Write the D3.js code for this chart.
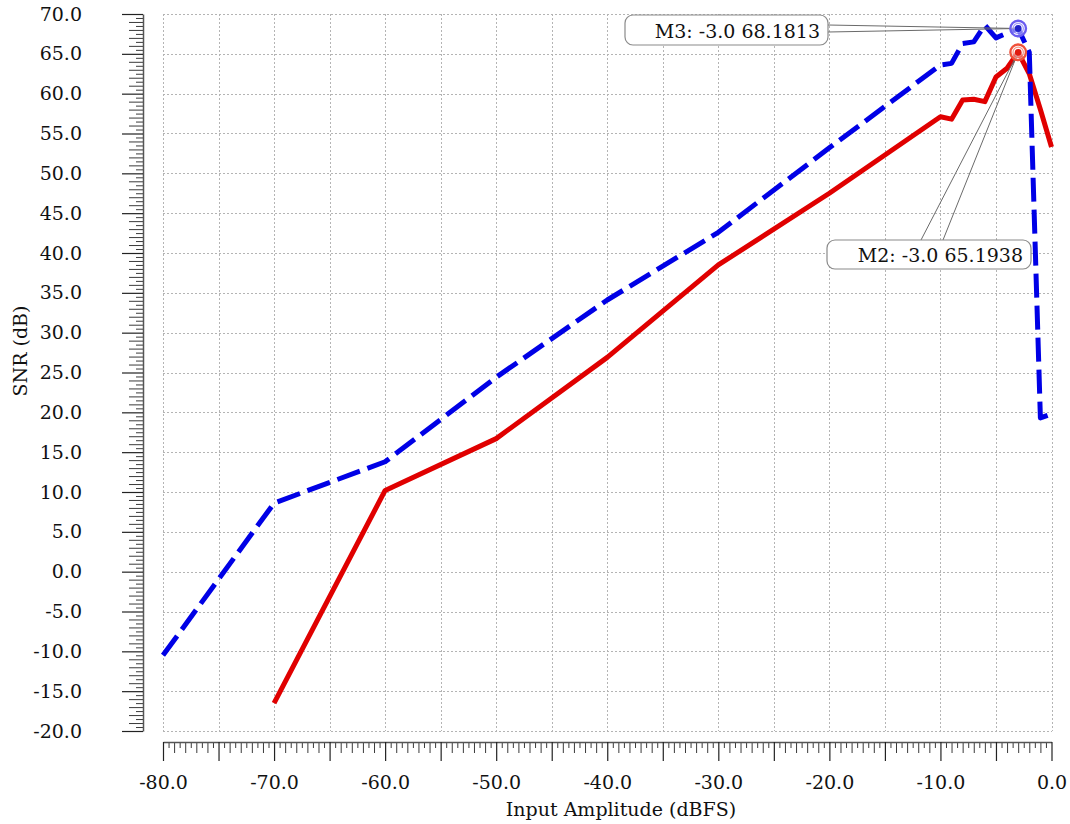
<!DOCTYPE html>
<html>
<head>
<meta charset="utf-8">
<script src="https://cdn.jsdelivr.net/npm/d3@7"></script>
<style>
  body { margin: 0; background: #fff; }
  svg { display: block; }
  text { font-family: "DejaVu Serif", serif; font-size: 19px; fill: #111; }
</style>
</head>
<body>
<svg id="chart" width="1070" height="824"></svg>
<script>
// Input amplitude sweep (dBFS) and measured SNR (dB) for the two traces
const inputLevels = [-80, -70, -60, -50, -40, -30, -20, -10, -9, -8, -7, -6, -5, -4, -3, -2, -1, 0];
const snrM2 = [null, -16.5, 10.2, 16.7, 26.9, 38.5, 47.5, 57.1, 56.8, 59.2, 59.3, 59.0, 62.1, 63.2, 65.1938, 62.5, 58.0, 53.3];
const snrM3 = [-10.5, 8.6, 13.8, 24.4, 34.1, 42.6, 53.2, 63.6, 63.8, 66.3, 66.5, 68.6, 67.0, 67.6, 68.1813, 65.2, 19.3, 19.8];

const xTickLabels = [-80, -70, -60, -50, -40, -30, -20, -10, 0];
const yTickLabels = [-20, -15, -10, -5, 0, 5, 10, 15, 20, 25, 30, 35, 40, 45, 50, 55, 60, 65, 70];

// Peak markers
const markerNames = ["M3", "M2"];
const markerX = [-3, -3];
const markerY = [68.1813, 65.1938];

const svg = d3.select("#chart");
const W = 1070, H = 824;
svg.append("rect").attr("width", W).attr("height", H).attr("fill", "#fff");

const x = d3.scaleLinear().domain([-80, 0]).range([163, 1051.5]);
const y = d3.scaleLinear().domain([-20, 70]).range([731, 14]);

// ---- dotted grid (every 5 units) ----
const grid = svg.append("g").attr("stroke", "#b4b4b4").attr("stroke-width", 1)
  .attr("stroke-dasharray", "2,2").attr("shape-rendering", "crispEdges");
const gx = d3.range(-80, 0.01, 5);
const gy = d3.range(-20, 70.01, 5);
grid.selectAll(".gv").data(gx).join("line")
  .attr("x1", d => Math.round(x(d)) + 0.5).attr("x2", d => Math.round(x(d)) + 0.5)
  .attr("y1", y(70)).attr("y2", y(-20));
grid.selectAll(".gh").data(gy).join("line")
  .attr("y1", d => Math.round(y(d)) + 0.5).attr("y2", d => Math.round(y(d)) + 0.5)
  .attr("x1", x(-80)).attr("x2", x(0));

// ---- rulers ----
function tier(axis, g, values, size, fmt, pad) {
  axis.tickValues(values).tickSize(size).tickSizeOuter(0).tickPadding(pad || 3)
    .tickFormat(fmt || (() => ""));
  g.call(axis);
  g.selectAll(".tick line").attr("stroke", "#3a3a3a");
  return g;
}
const isMult = (v, m) => Math.abs(v / m - Math.round(v / m)) < 1e-6;

// Y ruler
const yAxisX = 143;
const yHalf = d3.range(-20, 70.01, 0.5).filter(v => !isMult(v, 1));
const yOne = d3.range(-20, 70.01, 1).filter(v => !isMult(v, 5));
const gyR = svg.append("g").attr("transform", `translate(${yAxisX},0)`);
tier(d3.axisLeft(y), gyR.append("g"), yHalf, 7).select(".domain").remove();
tier(d3.axisLeft(y), gyR.append("g"), yOne, 14).select(".domain").remove();
const gyMajor = tier(d3.axisLeft(y), gyR.append("g"), yTickLabels, 21, v => v.toFixed(1), 40);
gyMajor.select(".domain").attr("stroke", "#555").attr("stroke-width", 1.5);
gyMajor.selectAll(".tick line").attr("stroke", "#222").attr("stroke-width", 1.2);
gyMajor.selectAll(".tick text").attr("font-size", 19).attr("font-family", "DejaVu Serif").attr("fill", "#111");

// X ruler
const xAxisY = 742;
const xHalf = d3.range(-80, 0.01, 0.5).filter(v => !isMult(v, 1));
const xOne = d3.range(-80, 0.01, 1).filter(v => !isMult(v, 5));
const xFive = d3.range(-80, 0.01, 5);
const gxR = svg.append("g").attr("transform", `translate(0,${xAxisY})`);
tier(d3.axisBottom(x), gxR.append("g"), xHalf, 6).select(".domain").remove();
tier(d3.axisBottom(x), gxR.append("g"), xOne, 11).select(".domain").remove();
const gxMajor = tier(d3.axisBottom(x), gxR.append("g"), xFive, 19,
  v => xTickLabels.includes(v) ? v.toFixed(1) : "", 3);
gxMajor.select(".domain").attr("stroke", "#555").attr("stroke-width", 1.5);
gxMajor.selectAll(".tick line").attr("stroke", "#222").attr("stroke-width", 1.2);
gxMajor.selectAll(".tick text").attr("y", 47).attr("dy", 0)
  .attr("font-size", 19).attr("font-family", "DejaVu Serif").attr("fill", "#111");

// ---- axis titles ----
svg.append("text").attr("x", 621).attr("y", 816).attr("text-anchor", "middle")
  .text("Input Amplitude (dBFS)");
svg.append("text").attr("transform", "translate(27,351) rotate(-90)").attr("text-anchor", "middle")
  .text("SNR (dB)");

// ---- traces ----
const rows = inputLevels.map((lv, i) => ({ lv, m2: snrM2[i], m3: snrM3[i] }));
const lineM2 = d3.line().defined(d => d.m2 != null).x(d => x(d.lv)).y(d => y(d.m2));
const lineM3 = d3.line().x(d => x(d.lv)).y(d => y(d.m3));

svg.append("path").datum(rows).attr("d", lineM2)
  .attr("fill", "none").attr("stroke", "#e00000").attr("stroke-width", 5)
  .attr("stroke-linejoin", "round");
svg.append("path").datum(rows).attr("d", lineM3)
  .attr("fill", "none").attr("stroke", "#0000e6").attr("stroke-width", 5)
  .attr("stroke-dasharray", "24,8").attr("stroke-linejoin", "round");

// ---- markers with callouts ----
const markerStyle = {
  M3: { ring: "#6b5cf0", dot: "#2020c8", box: [625, 15, 203, 30], text: [820, 38],
        leaders: [[828, 25], [828, 32]] },
  M2: { ring: "#f0503a", dot: "#e01a10", box: [827, 240, 204, 29], text: [1023, 262],
        leaders: [[921, 240], [943, 240]] }
};
markerNames.forEach((name, i) => {
  const s = markerStyle[name];
  const px = x(markerX[i]), py = y(markerY[i]);
  const g = svg.append("g");
  s.leaders.forEach(([lx, ly]) => {
    g.append("line").attr("x1", lx).attr("y1", ly).attr("x2", px).attr("y2", py)
      .attr("stroke", "#6a6a6a").attr("stroke-width", 1);
  });
  g.append("rect").attr("x", s.box[0]).attr("y", s.box[1]).attr("width", s.box[2]).attr("height", s.box[3])
    .attr("rx", 8).attr("fill", "#fff").attr("stroke", "#8a8a8a").attr("stroke-width", 1.2);
  g.append("text").attr("x", s.text[0]).attr("y", s.text[1]).attr("text-anchor", "end")
    .text(`${name}: ${markerX[i].toFixed(1)} ${markerY[i]}`);
  g.append("circle").attr("cx", px).attr("cy", py).attr("r", 7.8)
    .attr("fill", "#fff").attr("fill-opacity", 0.55).attr("stroke", s.ring).attr("stroke-width", 2.4);
  g.append("circle").attr("cx", px).attr("cy", py).attr("r", 5.2)
    .attr("fill", "none").attr("stroke", s.ring).attr("stroke-opacity", 0.6).attr("stroke-width", 1.2);
  g.append("circle").attr("cx", px).attr("cy", py).attr("r", 3.4).attr("fill", s.dot);
});
</script>
</body>
</html>
